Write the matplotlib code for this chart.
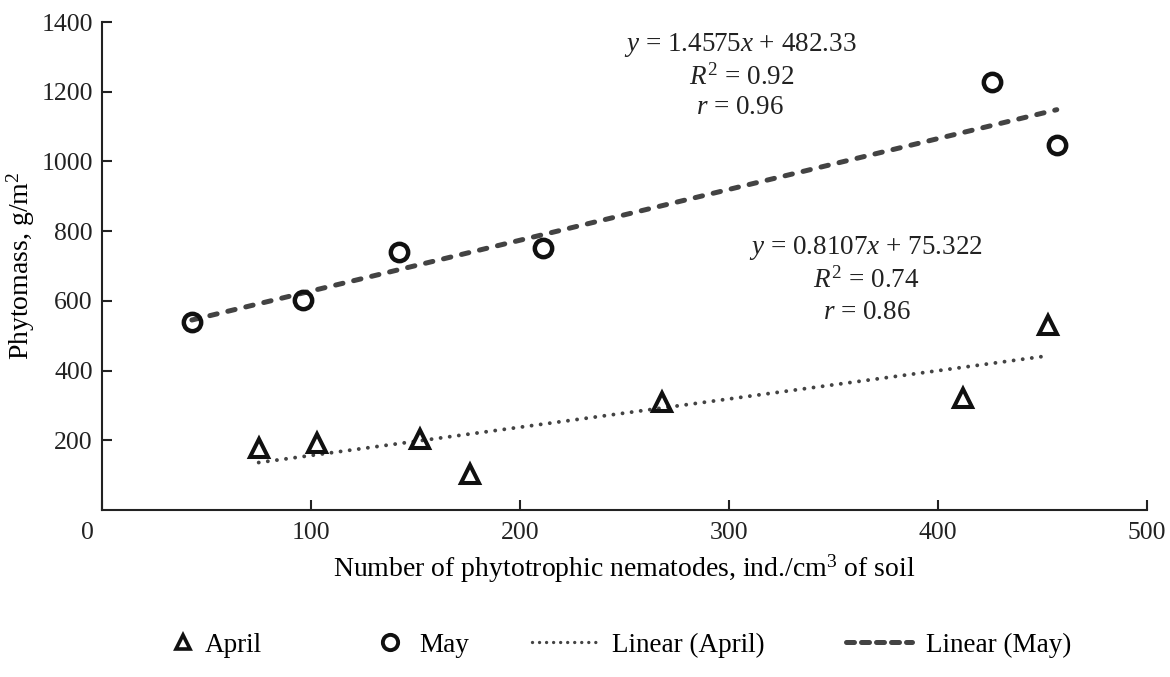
import numpy as np
import matplotlib
matplotlib.use('Agg')
import matplotlib.pyplot as plt
from matplotlib.lines import Line2D
from matplotlib.transforms import ScaledTranslation

plt.rcParams['font.family'] = ['Liberation Serif', 'DejaVu Serif']
plt.rcParams['mathtext.fontset'] = 'custom'
plt.rcParams['mathtext.rm'] = 'Liberation Serif'
plt.rcParams['mathtext.it'] = 'Liberation Serif:italic'

# data
april_x = [75, 103, 152, 176, 268, 412, 453]
april_y = [178, 193, 203, 103, 310, 321, 531]
may_x = [43, 96, 142, 211, 426, 457]
may_y = [540, 603, 740, 752, 1229, 1047]

# trend line coefficients (as printed on the chart)
april_fit = (0.8107, 75.322)
may_fit = (1.4575, 482.33)

fig = plt.figure(figsize=(11.7, 6.77), dpi=100)
ax = fig.add_axes([0.0872, 0.2467, 0.8928, 0.7208])

line_col = '#434343'
mark_col = '#111111'

xa = np.array([min(april_x), max(april_x)])
ax.plot(xa, april_fit[0] * xa + april_fit[1], color=line_col, lw=2.8,
        dashes=(0.01, 2.35), dash_capstyle='round', zorder=2)
xm = np.array([min(may_x), max(may_x)])
ax.plot(xm, may_fit[0] * xm + may_fit[1], color=line_col, lw=3.6,
        dashes=(1.5, 2.2), dash_capstyle='round', zorder=2)

ax.plot(april_x, april_y, linestyle='none', marker='^', ms=12.5, mew=2.9,
        mfc='none', mec=mark_col, zorder=3)
ax.plot(may_x, may_y, linestyle='none', marker='o', ms=12.5, mew=3.2,
        mfc='none', mec=mark_col, zorder=3)

ax.set_xlim(0, 500)
ax.set_ylim(0, 1400)
ax.set_xticks([0, 100, 200, 300, 400, 500])
ax.set_yticks([200, 400, 600, 800, 1000, 1200, 1400])
ax.spines['top'].set_visible(False)
ax.spines['right'].set_visible(False)
for s in ['left', 'bottom']:
    ax.spines[s].set_linewidth(1.5)
    ax.spines[s].set_color('#222222')
ax.tick_params(direction='in', length=7, width=1.5, labelsize=18.5,
               colors='#222222')
ax.tick_params(axis='y', pad=6.5)
ax.tick_params(axis='x', pad=9)

# the "0" under the corner sits a little left of the axis
zero_lab = ax.get_xticklabels()[0]
zero_lab.set_transform(zero_lab.get_transform() + ScaledTranslation(-0.15, 0, fig.dpi_scale_trans))

ax.set_ylabel('Phytomass, g/m$^{2}$', fontsize=20, labelpad=3)
ax.set_xlabel('Number of phytotrophic nematodes, ind./cm$^{3}$ of soil',
              fontsize=20, labelpad=6)

tk = dict(ha='center', va='center', fontsize=19.5, color='#222222')
ax.text(305.7, 1334, r'$y$ = 1.4575$x$ + 482.33', **tk)
ax.text(306, 1240, r'$R^{\mathrm{2}}$ = 0.92', **tk)
ax.text(305.5, 1156, r'$r$ = 0.96', **tk)
ax.text(365.6, 751, r'$y$ = 0.8107$x$ + 75.322', **tk)
ax.text(366, 658, r'$R^{\mathrm{2}}$ = 0.74', **tk)
ax.text(366, 568, r'$r$ = 0.86', **tk)

# legend entries, each placed on its own under the axes
legend_items = [
    (Line2D([], [], linestyle='none', marker='^', ms=10.5, mew=2.6, mfc='none', mec=mark_col),
     'April', 172, 0.8, 0.4),
    (Line2D([], [], linestyle='none', marker='o', ms=11, mew=2.8, mfc='none', mec=mark_col),
     'May', 379, 0.8, 0.7),
    (Line2D([], [], color=line_col, lw=2.4, dashes=(0.01, 2.1), dash_capstyle='round'),
     'Linear (April)', 532, 2.45, 0.5),
    (Line2D([], [], color=line_col, lw=3.6, dashes=(1.6, 1.4), dash_capstyle='round'),
     'Linear (May)', 846, 2.45, 0.5),
]
for h, lab, px, hl, hp in legend_items:
    fig.legend([h], [lab], loc='center left', bbox_to_anchor=(px / 1170, 0.047),
               frameon=False, fontsize=19.5, handlelength=hl, handletextpad=hp,
               borderpad=0, borderaxespad=0)

fig.savefig('out.png', dpi=100)
